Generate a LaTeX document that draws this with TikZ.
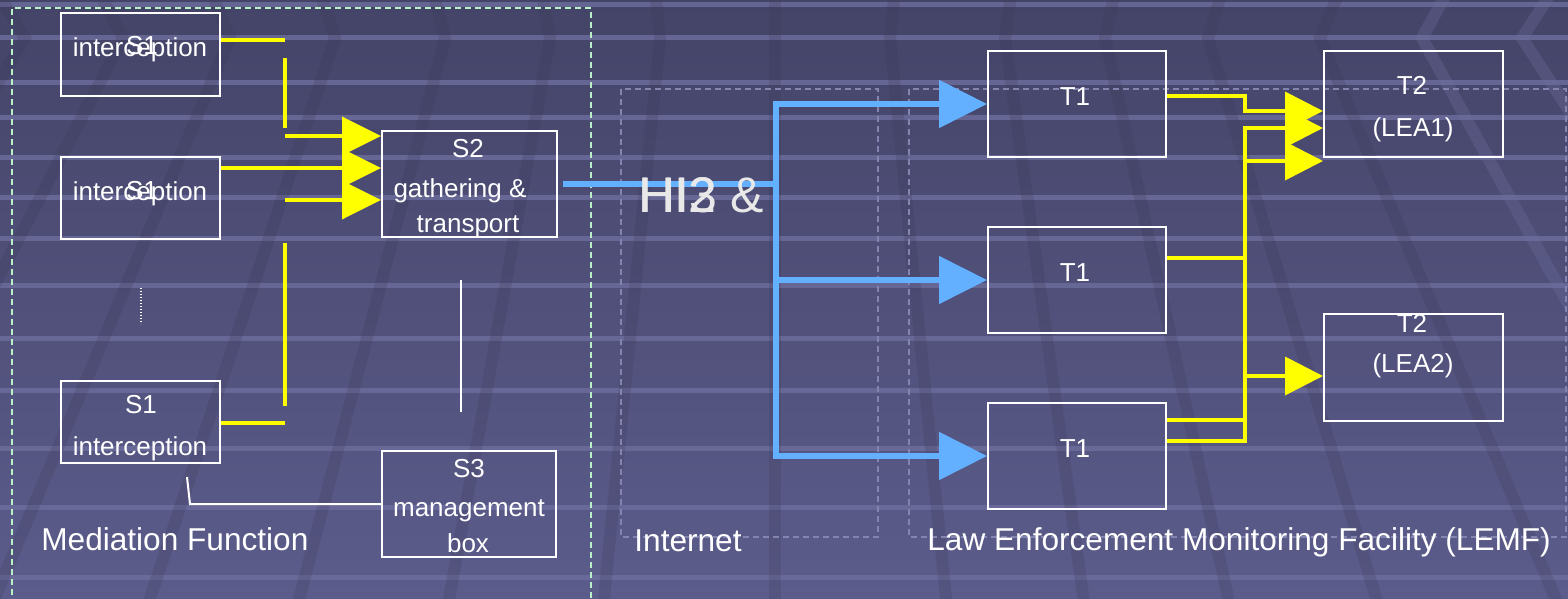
\documentclass[tikz,border=0pt]{standalone}
\usepackage{fontspec}
\setmainfont{Liberation Sans}
\usetikzlibrary{arrows.meta,fit}

\definecolor{bgtop}{RGB}{68,68,104}
\definecolor{bgbot}{RGB}{92,92,140}
\definecolor{stripe}{RGB}{110,110,158}
\definecolor{band}{RGB}{56,56,86}
\definecolor{bandlight}{RGB}{112,112,160}
\definecolor{hiyellow}{RGB}{255,255,0}
\definecolor{hiblue}{RGB}{98,176,255}
\definecolor{mintdash}{RGB}{185,240,200}
\definecolor{greydash}{RGB}{132,132,176}
\definecolor{hitext}{RGB}{232,232,232}

\begin{document}
\begin{tikzpicture}[x=0.5pt,y=-0.5pt,
  box/.style={draw=white, line width=1pt, inner sep=0pt},
  txt/.style={text=white, inner sep=0pt, anchor=base, font=\fontsize{13}{15}\selectfont},
  caption/.style={text=white, inner sep=0pt, anchor=base west, font=\fontsize{15.8}{19}\selectfont},
  hilabel/.style={text=hitext, inner sep=0pt, anchor=base west, font=\fontsize{25}{30}\selectfont},
  yel/.style={draw=hiyellow, line width=1.9pt},
  blu/.style={draw=hiblue, line width=2.6pt},
  ytip/.style={-{Triangle[length=19.5pt,width=19pt]}},
  ltip/.style={-{Triangle[length=19pt,width=19pt]}},
  btip/.style={-{Triangle[length=24pt,width=23.5pt]}},
  wire/.style={draw=white, line width=1pt},
  zonemint/.style={draw=mintdash, line width=0.7pt, dash pattern=on 3pt off 2pt},
  zonegrey/.style={draw=greydash, line width=0.6pt, dash pattern=on 3pt off 2pt}
]
\useasboundingbox (0,0) rectangle (1568,599);
\clip (0,0) rectangle (1568,599);

% slide background: gradient, light horizontal stripes, diagonal bands
\fill[top color=bgtop, bottom color=bgbot] (0,0) rectangle (1568,599);
\foreach \y in {5,38,83,118,157,197,238,285,338,390,448,507,577}
  \fill[stripe, opacity=0.8] (0,{\y-2.5}) rectangle (1568,{\y+2.5});
\foreach \xk/\s in {25/-0.6,123/-0.52,230/-0.42,335/-0.33,445/-0.26,550/-0.18,
                    660/-0.1,775/0,890/0.1,1005/0.14,1105/0.22,1208/0.3,1320/0.42}
  \draw[band, opacity=0.22, line width=6pt]
    ({\xk+43*\s},-5) -- (\xk,38) -- ({\xk+567*\s},605);
\foreach \xk/\s in {1422/0.55,1522/0.65}
  \draw[bandlight, opacity=0.3, line width=6pt]
    ({\xk+43*\s},-5) -- (\xk,38) -- ({\xk+567*\s},605);

% zone frames
\draw[zonemint] (12,605) -- (12,8) -- (591,8) -- (591,605);
\draw[zonegrey] (621,89) rectangle (878,537);
\draw[zonegrey] (909,89) rectangle (1566,537);

% mediation function boxes
\node[box, fit={(61,13) (220,96)}] (s1a) {};
\node[box, fit={(61,157) (220,239)}] (s1b) {};
\node[box, fit={(61,381) (220,463)}] (s1c) {};
\node[box, fit={(382,131) (557,237)}] (s2) {};
\node[box, fit={(382,451) (556,557)}] (s3) {};

\node[txt] (s1a-id) at (142,55) {S1};
\node[txt] (s1a-fn) at (140,57) {interception};
\node[txt] (s1b-id) at (142,199) {S1};
\node[txt] (s1b-fn) at (140,200) {interception};
\node[txt] (s1c-id) at (141,413) {S1};
\node[txt] (s1c-fn) at (140,455) {interception};
\node[txt] (s2-id) at (468,157) {S2};
\node[txt] (s2-fn1) at (460,197) {gathering \&};
\node[txt] (s2-fn2) at (468,232) {transport};
\node[txt] (s3-id) at (469,477) {S3};
\node[txt] (s3-fn1) at (469,516) {management};
\node[txt] (s3-fn2) at (468,552) {box};

% LEMF boxes
\node[box, fit={(988,51) (1166,157)}] (t1a) {};
\node[box, fit={(988,227) (1166,333)}] (t1b) {};
\node[box, fit={(988,403) (1166,509)}] (t1c) {};
\node[box, fit={(1324,51) (1503,157)}] (t2a) {};
\node[box, fit={(1324,314) (1503,421)}] (t2b) {};

\node[txt] (t1a-id) at (1075,105) {T1};
\node[txt] (t1b-id) at (1075,281) {T1};
\node[txt] (t1c-id) at (1075,457) {T1};
\node[txt] (t2a-id) at (1412,95) {T2};
\node[txt] (t2a-lea) at (1413,136) {(LEA1)};
\node[txt] (t2b-id) at (1412,332) {T2};
\node[txt] (t2b-lea) at (1413,372) {(LEA2)};

% S1 -> S2 yellow links
\coordinate (m1) at (285,40);
\coordinate (m2) at (285,58);
\coordinate (m3) at (285,128);
\coordinate (m4) at (285,136);
\coordinate (m5) at (0,168);
\coordinate (m6) at (285,200);
\coordinate (m7) at (285,243);
\coordinate (m8) at (285,406);
\coordinate (m9) at (285,423);
\draw[yel] (s1a.east |- m1) -- (m1);
\draw[yel] (m2) -- (m3);
\draw[yel,ytip] (m4) -- (m4 -| s2.west);
\draw[yel,ytip] (s1b.east |- m5) -- (s2.west |- m5);
\draw[yel,ytip] (m6) -- (m6 -| s2.west);
\draw[yel] (m7) -- (m8);
\draw[yel] (s1c.east |- m9) -- (m9);

% white management links
\coordinate (w1) at (187,477);
\coordinate (w2) at (190,504);
\coordinate (w3) at (461,280);
\coordinate (w4) at (461,412);
\coordinate (d1) at (141,288);
\coordinate (d2) at (141,324);
\draw[wire] (w1) -- (w2) -- (w2 -| s3.west);
\draw[draw=white, line width=0.75pt] (w3) -- (w4);
\draw[draw=white, line width=0.8pt, dash pattern=on 0.6pt off 0.9pt] (d1) -- (d2);

% HI2 / HI3 handover in blue
\coordinate (b0) at (563,184);
\coordinate (bh) at (776,184);
\coordinate (hubA) at (776,104);
\coordinate (hubB) at (776,280);
\coordinate (hubC) at (776,456);
\draw[blu] (b0) -- (bh);
\draw[blu,btip] (hubA) -- (hubC) -- (t1c.west);
\draw[blu,btip] (hubC) -- (hubA) -- (t1a.west);
\draw[blu,btip] (hubB) -- (t1b.west);

\node[hilabel] (hi2) at (638,212) {HI2 \&};
\node[hilabel] (hi3) at (639,212) {HI3};

% T1 -> T2 yellow links
\coordinate (j1) at (1245,96);
\coordinate (j2) at (1245,111);
\coordinate (j3) at (1245,128);
\coordinate (j4) at (1245,161);
\coordinate (j5) at (1245,258);
\coordinate (j6) at (1245,376);
\coordinate (j7) at (1245,420);
\coordinate (j8) at (1245,441);
\draw[yel,ltip] (t1a.east |- j1) -- (j1) -- (j2) -- (j2 -| t2a.west);
\draw[yel,ltip] (t1c.east |- j8) -- (j8) -- (j3) -- (j3 -| t2a.west);
\draw[yel,ltip] (j4) -- (j4 -| t2a.west);
\draw[yel] (t1b.east |- j5) -- (j5);
\draw[yel] (t1c.east |- j7) -- (j7);
\draw[yel,ltip] (j6) -- (j6 -| t2b.west);

% zone captions
\node[caption] (medlbl) at (41,550) {Mediation Function};
\node[caption] (netlbl) at (634,551) {Internet};
\node[caption] (lemflbl) at (927,550) {Law Enforcement Monitoring Facility (LEMF)};
\end{tikzpicture}
\end{document}
